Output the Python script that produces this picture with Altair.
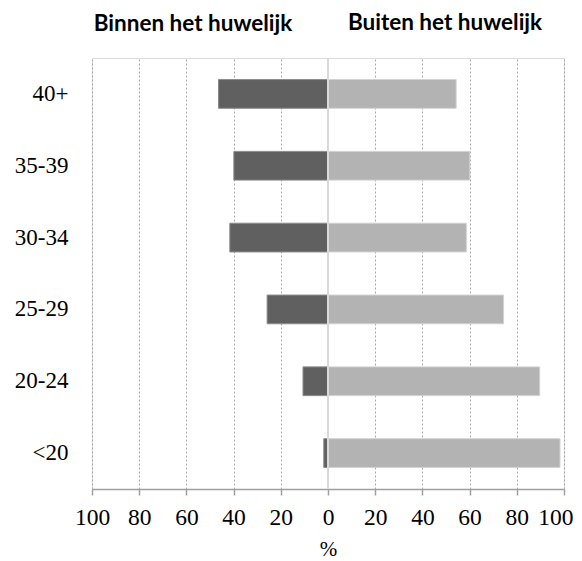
import altair as alt
import pandas as pd

ages = ["40+", "35-39", "30-34", "25-29", "20-24", "<20"]
binnen = [46.4, 39.9, 41.6, 25.8, 10.6, 1.8]
buiten = [54.3, 60.1, 58.6, 74.4, 89.7, 98.3]
x_ticks = [-100, -80, -60, -40, -20, 0, 20, 40, 60, 80, 100]
titles = ["Binnen het huwelijk", "Buiten het huwelijk"]
x_title = "%"

df = pd.DataFrame({"age": ages, "binnen": binnen, "buiten": buiten})
df["binnen_neg"] = -df["binnen"]
df["zero"] = 0

serif = "Liberation Serif"

xscale = alt.Scale(domain=[-100, 100], nice=False, zero=False)
xaxis = alt.Axis(
    values=x_ticks, labelExpr="abs(datum.value)", title=x_title,
    labelAlign={"condition": {"test": "datum.value === 100", "value": "right"}, "value": "center"},
    labelOffset={"condition": {"test": "datum.value === 100", "value": 9}, "value": 0},
)
yenc = alt.Y(
    "age:N",
    sort=ages,
    scale=alt.Scale(paddingInner=0.6, paddingOuter=0.3),
    axis=alt.Axis(title=None),
)

base = alt.Chart(df)

left = base.mark_bar(color="#606060", stroke="#8c8c8c", strokeWidth=1).encode(
    x=alt.X("binnen_neg:Q", scale=xscale, axis=xaxis),
    x2="zero:Q",
    y=yenc,
)

right = base.mark_bar(color="#b3b3b3", stroke="#d2d2d2", strokeWidth=1).encode(
    x=alt.X("zero:Q", scale=xscale, axis=xaxis),
    x2="buiten:Q",
    y=yenc,
)

zero_rule = base.mark_rule(color="#d9d9d9", strokeWidth=2).encode(
    x=alt.X("min(zero):Q", scale=xscale, axis=xaxis)
)

t_left = alt.Chart(pd.DataFrame({"t": [titles[0]]})).mark_text(
    font="Lato", fontSize=22.5, fontWeight="bold", color="black",
    align="center", baseline="alphabetic",
).encode(text="t:N", x=alt.value(101), y=alt.value(-27))

t_right = alt.Chart(pd.DataFrame({"t": [titles[1]]})).mark_text(
    font="Lato", fontSize=22.5, fontWeight="bold", color="black",
    align="center", baseline="alphabetic",
).encode(text="t:N", x=alt.value(353), y=alt.value(-28))

chart = (
    alt.layer(left, right, zero_rule, t_left, t_right)
    .properties(
        width=472, height=431,
        autosize=alt.AutoSizeParams(type="none"),
        padding={"left": 84, "top": 50, "right": 10, "bottom": 72},
    )
    .configure_view(stroke=None)
    .configure(background="white")
    .configure_axisX(
        labelFont=serif, labelFontSize=23.5, labelColor="black",
        labelFlush=False, labelPadding=10, labelOverlap=False,
        domainColor="#a0a0a0", domainWidth=1.5, tickColor="#a0a0a0",
        tickWidth=1.5, tickSize=6,
        grid=True, gridDash=[2, 2], gridColor="#a8a8a8", gridWidth=1,
        titleFont=serif, titleFontSize=21, titleFontWeight="normal",
        titleColor="black", titlePadding=10,
    )
    .configure_axisY(
        domain=False, ticks=False, labelPadding=24, grid=False,
        labelFont=serif, labelFontSize=23, labelColor="black",
    )
)

chart.save("out.html", embed_options={"renderer": "svg", "actions": False})
